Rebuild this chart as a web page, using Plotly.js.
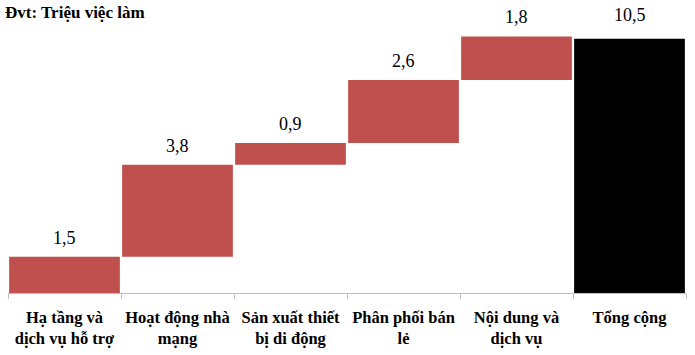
<!DOCTYPE html>
<html>
<head>
<meta charset="utf-8">
<script src="https://cdn.plot.ly/plotly-3.0.1.min.js"></script>
<style>html,body{margin:0;padding:0;background:#fff;}#chart{width:695px;height:355px;}</style>
</head>
<body>
<div id="chart"></div>
<script>
var categories = ["Hạ tầng và<br>dịch vụ hỗ trợ", "Hoạt động nhà<br>mạng", "Sản xuất thiết<br>bị di động", "Phân phối bán<br>lẻ", "Nội dung và<br>dịch vụ", "Tổng cộng"];
var values = [1.5, 3.8, 0.9, 2.6, 1.8, 10.5];
var isTotal = [false, false, false, false, false, true];
var unitTitle = "Đvt: Triệu việc làm";

var SERIF = "Liberation Serif";

var bases = [], running = 0;
for (var i = 0; i < values.length; i++) {
  if (isTotal[i]) { bases.push(0); }
  else { bases.push(running); running += values[i]; }
}
var colors = isTotal.map(function(t){ return t ? "#000000" : "#C0504D"; });
var labels = values.map(function(v){ return v.toFixed(1).replace(".", ","); });

var trace = {
  type: "bar",
  x: categories,
  y: values,
  base: bases,
  marker: {color: colors, line: {width: 0}},
  hoverinfo: "skip"
};

var annotations = categories.map(function(c, i){
  return {
    x: c, y: bases[i] + values[i], xref: "x", yref: "y",
    text: labels[i], showarrow: false, yanchor: "bottom", yshift: isTotal[i] ? 12 : 7,
    font: {family: SERIF, size: 18, color: "#000"}
  };
});

var layout = {
  width: 695, height: 355,
  font: {family: SERIF, color: "#000"},
  margin: {l: 8, r: 9, t: 25, b: 62},
  paper_bgcolor: "#fff", plot_bgcolor: "#fff",
  showlegend: false,
  bargap: 0.02,
  title: {
    text: "<b>" + unitTitle + "</b>",
    x: 5/695, xanchor: "left", xref: "container",
    y: 1 - 12/355, yanchor: "middle", yref: "container",
    font: {family: SERIF, size: 17, color: "#000"}
  },
  xaxis: {
    type: "category",
    tickson: "boundaries",
    ticks: "outside", ticklen: 5, tickcolor: "#bfbfbf", tickwidth: 1,
    showline: true, linecolor: "#bfbfbf", linewidth: 1,
    showgrid: false, zeroline: false,
    tickangle: 0,
    ticklabelstandoff: 9,
    tickfont: {family: SERIF, size: 16.5, color: "#000", weight: "bold"},
    fixedrange: true
  },
  yaxis: {
    range: [0, 11.07],
    visible: false, showgrid: false, zeroline: false, fixedrange: true
  },
  annotations: annotations
};

Plotly.newPlot("chart", [trace], layout, {displayModeBar: false, staticPlot: true});
</script>
</body>
</html>
